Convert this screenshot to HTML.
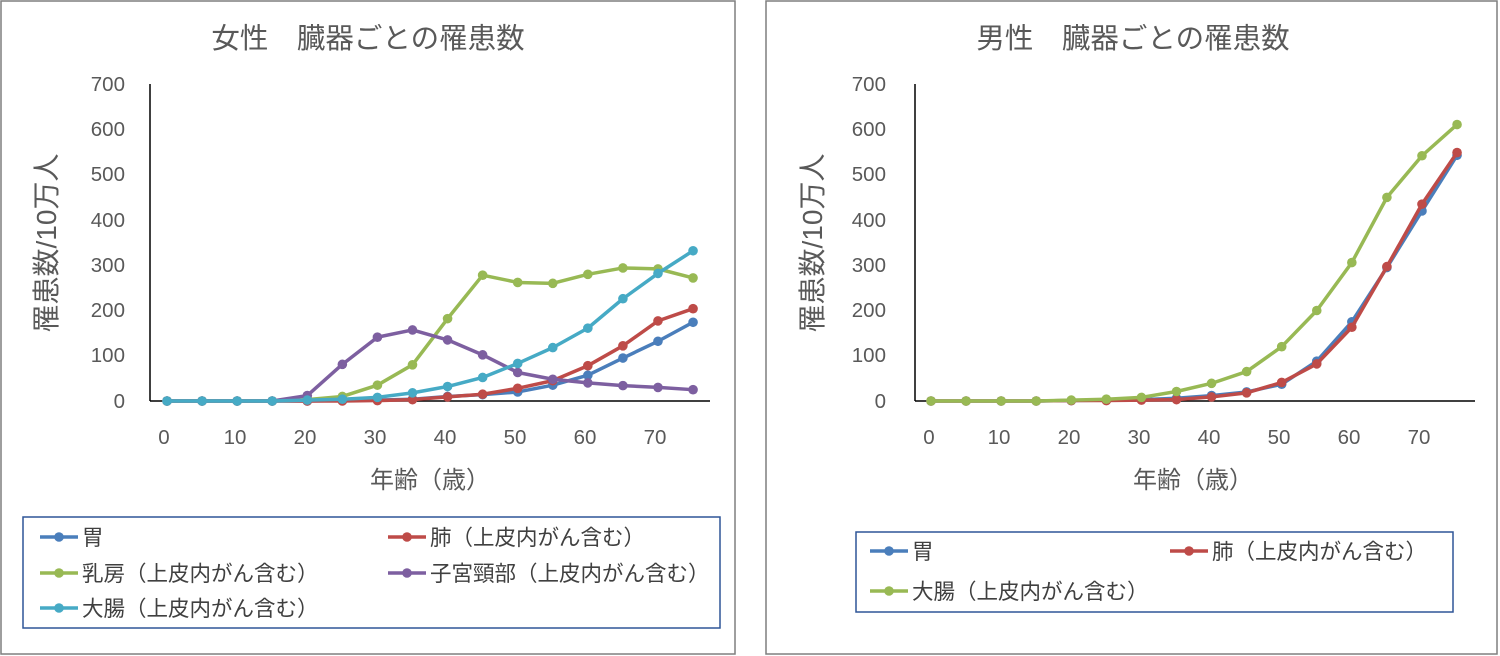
<!DOCTYPE html>
<html><head><meta charset="utf-8"><style>
body{margin:0;background:#fff;width:1500px;height:656px;overflow:hidden}
svg{display:block;font-family:"Liberation Sans","Noto Sans CJK JP",sans-serif}
.t{font-size:28.5px;fill:#595959}
.k{font-size:20.5px;fill:#595959}
.a{font-size:24px;fill:#595959}
.y{font-size:28px;fill:#595959}
.l{font-size:21.5px;fill:#404040}
</style></head><body>
<svg id="s" width="1500" height="656" viewBox="0 0 1500 656">
<rect x="1" y="1" width="734" height="653" fill="#fff" stroke="#7f7f7f" stroke-width="1.5"/>
<rect x="766" y="1" width="731" height="653" fill="#fff" stroke="#7f7f7f" stroke-width="1.5"/>
<text class="t" x="368" y="48" text-anchor="middle">女性　臓器ごとの罹患数</text>
<text class="t" x="1133" y="48" text-anchor="middle">男性　臓器ごとの罹患数</text>
<g class="k" text-anchor="end">
<text x="125" y="91">700</text><text x="125" y="136">600</text><text x="125" y="181">500</text><text x="125" y="227">400</text><text x="125" y="272">300</text><text x="125" y="317">200</text><text x="125" y="362">100</text><text x="125" y="408">0</text>
<text x="886" y="91">700</text><text x="886" y="136">600</text><text x="886" y="181">500</text><text x="886" y="227">400</text><text x="886" y="272">300</text><text x="886" y="317">200</text><text x="886" y="362">100</text><text x="886" y="408">0</text>
</g>
<g class="k" text-anchor="middle">
<text x="164" y="444">0</text><text x="235" y="444">10</text><text x="305" y="444">20</text><text x="375" y="444">30</text><text x="445" y="444">40</text><text x="515" y="444">50</text><text x="585" y="444">60</text><text x="655" y="444">70</text>
<text x="929" y="444">0</text><text x="999" y="444">10</text><text x="1069" y="444">20</text><text x="1139" y="444">30</text><text x="1209" y="444">40</text><text x="1279" y="444">50</text><text x="1349" y="444">60</text><text x="1419" y="444">70</text>
</g>
<text class="a" x="430" y="488" text-anchor="middle">年齢（歳）</text>
<text class="a" x="1193" y="488" text-anchor="middle">年齢（歳）</text>
<text class="y" transform="translate(56,243) rotate(-90)" text-anchor="middle">罹患数/10万人</text>
<text class="y" transform="translate(822,243) rotate(-90)" text-anchor="middle">罹患数/10万人</text>
<line x1="150" y1="84" x2="150" y2="401" stroke="#000" stroke-width="1.5"/>
<line x1="150" y1="401" x2="710" y2="401" stroke="#000" stroke-width="1.5"/>
<line x1="915" y1="84" x2="915" y2="401" stroke="#000" stroke-width="1.5"/>
<line x1="915" y1="401" x2="1475" y2="401" stroke="#000" stroke-width="1.5"/>
<g id="series"></g>
<rect x="23" y="517" width="697" height="111" fill="none" stroke="#2f5597" stroke-width="1.5"/>
<rect x="856" y="532" width="597" height="80" fill="none" stroke="#2f5597" stroke-width="1.5"/>
<g class="l">
<text x="82" y="545">胃</text>
<text x="430" y="545">肺（上皮内がん含む）</text>
<text x="82" y="581">乳房（上皮内がん含む）</text>
<text x="430" y="581">子宮頸部（上皮内がん含む）</text>
<text x="82" y="616">大腸（上皮内がん含む）</text>
<text x="912" y="559">胃</text>
<text x="1212" y="559">肺（上皮内がん含む）</text>
<text x="912" y="599">大腸（上皮内がん含む）</text>
</g>
<g id="leg"></g>
</svg>
<script>
var NS="http://www.w3.org/2000/svg";
var C={b:"#4a7ebb",r:"#be4b48",g:"#98b954",p:"#7d5fa0",c:"#46aac5"};
function line(g,pts,col){var p=document.createElementNS(NS,"polyline");p.setAttribute("points",pts.map(function(a){return a.join(",")}).join(" "));p.setAttribute("fill","none");p.setAttribute("stroke",col);p.setAttribute("stroke-width","3.5");p.setAttribute("stroke-linejoin","round");g.appendChild(p);
pts.forEach(function(a){var c=document.createElementNS(NS,"circle");c.setAttribute("cx",a[0]);c.setAttribute("cy",a[1]);c.setAttribute("r","4.8");c.setAttribute("fill",col);g.appendChild(c);});}
var g=document.getElementById("series");
function ser(x0,d,col){line(g,d.map(function(v,i){return [x0+i*35.07,401-v*0.4525]}),col);}
var F=[["b",[0,0,0,0,0,1,2,4,10,14,20,35,57,95,132,174]],
["r",[0,0,0,0,0,0,1,3,9,15,28,45,78,122,177,204]],
["g",[0,0,0,0,3,10,35,80,182,278,262,260,280,294,292,272]],
["p",[0,0,0,0,12,81,141,157,135,102,63,48,40,34,30,25]],
["c",[0,0,0,0,2,4,8,18,32,52,83,118,161,226,282,332]]];
F.forEach(function(s){ser(167,s[1],C[s[0]])});
var M=[["b",[0,0,0,0,1,2,3,6,12,20,37,88,175,295,420,543]],
["r",[0,0,0,0,1,1,2,3,9,18,41,82,163,297,435,549]],
["g",[0,0,0,0,2,4,8,21,39,65,120,200,306,450,542,611]]];
M.forEach(function(s){ser(931,s[1],C[s[0]])});
var lg=document.getElementById("leg");
[[40,537,"b"],[388,537,"r"],[40,573,"g"],[388,573,"p"],[40,608,"c"],[870,551,"b"],[1170,551,"r"],[870,591,"g"]].forEach(function(e){
var l=document.createElementNS(NS,"line");l.setAttribute("x1",e[0]);l.setAttribute("x2",e[0]+38);l.setAttribute("y1",e[1]);l.setAttribute("y2",e[1]);l.setAttribute("stroke",C[e[2]]);l.setAttribute("stroke-width","3.5");lg.appendChild(l);
var c=document.createElementNS(NS,"circle");c.setAttribute("cx",e[0]+19);c.setAttribute("cy",e[1]);c.setAttribute("r","4.8");c.setAttribute("fill",C[e[2]]);lg.appendChild(c);});
</script>
</body></html>
